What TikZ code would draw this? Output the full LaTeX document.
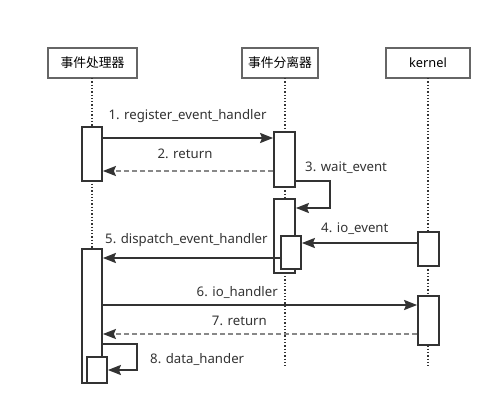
\documentclass[tikz,border=0pt]{standalone}
\usepackage{fontspec}
\setmainfont{Noto Sans}
\newfontfamily\cjk{Noto Sans CJK SC}
\usetikzlibrary{arrows.meta}
\definecolor{dk}{HTML}{333333}
\definecolor{gr}{HTML}{888888}
\definecolor{bx}{HTML}{666666}
\tikzset{
  head/.style={draw=bx, line width=1.1pt, fill=white, minimum width=#1, minimum height=30pt, inner sep=0pt, font=\cjk\fontsize{12.8}{14}\selectfont},
  bar/.style={draw=dk, line width=1.8pt, fill=white, inner sep=0pt},
  life/.style={draw=dk, line width=1.3pt, dash pattern=on 1.3pt off 2pt},
  msg/.style={draw=dk, line width=2pt, -{Stealth[length=13pt,width=10pt,inset=2pt]}},
  ret/.style={draw=gr, line width=1.6pt, dash pattern=on 5pt off 3pt, -{Stealth[length=13pt,width=10pt,inset=2pt,color=dk]}},
  lbl/.style={text=dk, font=\fontsize{13.2}{15}\selectfont, inner sep=0pt}
}
\begin{document}
\begin{tikzpicture}[x=1pt,y=-1pt]
\useasboundingbox (0,0) rectangle (503,415);
% headers
\node[head=89pt] (A) at (92.5,63) {事件处理器};
\node[head=76pt] (B) at (280,63) {事件分离器};
\node[head=84pt, font=\fontsize{12.8}{14}\selectfont] (C) at (428,63) {kernel};
% lifeline ends
\coordinate (Ae) at (92,380);
\coordinate (Be) at (285,368);
\coordinate (Ce) at (428,368);
\draw[life] (92,78) -- (Ae);
\draw[life] (285,78) -- (Be);
\draw[life] (428,78) -- (Ce);
% activation bars
\node[bar, minimum width=20pt, minimum height=54pt] (h1) at (92,154) {};
\node[bar, minimum width=21pt, minimum height=55pt] (s1) at (284.5,159.5) {};
\node[bar, minimum width=21pt, minimum height=74pt] (s2) at (284.5,236) {};
\node[bar, minimum width=20pt, minimum height=33pt] (s3) at (291,252.5) {};
\node[bar, minimum width=21pt, minimum height=34pt] (k1) at (428.5,249) {};
\node[bar, minimum width=20pt, minimum height=134pt] (h2) at (92,316) {};
\node[bar, minimum width=20pt, minimum height=26pt] (h3) at (97,370) {};
\node[bar, minimum width=21pt, minimum height=49pt] (k2) at (428.5,320.5) {};
% messages
\draw[msg] (h1.east |- 0,138) -- (s1.west |- 0,138);
\node[lbl] (l1) at (187.5,116) {1. register\_event\_handler};
\draw[ret] (s1.west |- 0,171) -- (h1.east |- 0,171);
\node[lbl] (l2) at (185,154) {2. return};
\coordinate (w1) at (330,181);
\coordinate (w2) at (330,208);
\draw[msg] (s1.east |- w1) -- (w1) -- (w2) -- (s2.east |- w2);
\node[lbl, anchor=west] (l3) at (305,168) {3. wait\_event};
\draw[msg] (k1.west |- 0,243) -- (s3.east |- 0,243);
\node[lbl, anchor=west] (l4) at (321,229) {4. io\_event};
\draw[msg] ([xshift=2pt]s3.west |- 0,258) -- (h2.east |- 0,258);
\node[lbl, anchor=west] (l5) at (105,240) {5. dispatch\_event\_handler};
\draw[msg] (h2.east |- 0,305) -- (k2.west |- 0,305);
\node[lbl, anchor=east] (l6) at (278,292) {6. io\_handler};
\draw[ret] (k2.west |- 0,334) -- (h2.east |- 0,334);
\node[lbl, anchor=east] (l7) at (267,321) {7. return};
\coordinate (d1) at (137,344);
\coordinate (d2) at (137,370);
\draw[msg] (h2.east |- d1) -- (d1) -- (d2) -- (h3.east |- d2);
\node[lbl, anchor=west] (l8) at (150,359) {8. data\_hander};
\end{tikzpicture}
\end{document}
